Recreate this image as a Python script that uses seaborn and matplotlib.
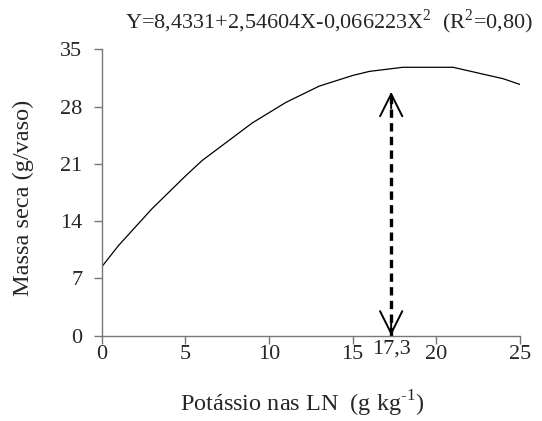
import matplotlib
matplotlib.use("Agg")
import matplotlib.pyplot as plt
import seaborn as sns

# === DATA ===
potassio = [0, 1, 3, 4, 5, 6, 9, 11, 13, 15, 16, 18, 21, 24, 25]
massa_seca = [8.4, 11.0, 15.5, 17.5, 19.5, 21.4, 26.0, 28.5, 30.5, 31.8, 32.3, 32.8, 32.8, 31.4, 30.7]

x_ticks = [0, 5, 10, 15, 20, 25]
y_ticks = [0, 7, 14, 21, 28, 35]
x_max_point = 17.3        # dose of max yield
arrow_top = 29.8          # where the dashed arrow stops

equation = "Y=8,4331+2,54604X-0,066223X$^2$  (R$^2$=0,80)"

# === STYLE ===
sns.set_style("ticks")
plt.rcParams["font.family"] = ["Liberation Serif", "DejaVu Serif"]
plt.rcParams["mathtext.fontset"] = "custom"
plt.rcParams["mathtext.rm"] = "Liberation Serif"

fig = plt.figure(figsize=(5.42, 4.21), dpi=100)
ax = fig.add_axes([0.1877, 0.2029, 0.9594 - 0.1877, 0.8829 - 0.2029])

sns.lineplot(x=potassio, y=massa_seca, color="black", linewidth=0.9, ax=ax)

# dashed double arrow at the max point
ax.plot([x_max_point, x_max_point], [0, arrow_top], color="black",
        linestyle=(0, (2.5, 1.6)), linewidth=2.4)
head = dict(arrowstyle="->,head_length=0.4,head_width=0.2", color="black",
            lw=1.4, mutation_scale=40, shrinkA=0, shrinkB=0)
ax.annotate("", xy=(x_max_point, arrow_top), xytext=(x_max_point, arrow_top - 2), arrowprops=head)
ax.annotate("", xy=(x_max_point, 0), xytext=(x_max_point, 2), arrowprops=head)

ax.set_xlim(0, 25)
ax.set_ylim(0, 35)
ax.set_yticks(y_ticks)
ax.set_yticklabels([str(v) for v in y_ticks])
ax.set_xticks(x_ticks)
ax.set_xticklabels([str(v) for v in x_ticks])
ax.set_xticks([x_max_point], minor=True)
ax.set_xticklabels(["17,3"], minor=True)
ax.tick_params(axis="both", which="major", length=6, width=1, color="#777777",
               labelsize=16, direction="out")
ax.tick_params(axis="y", which="major", pad=8)
ax.tick_params(axis="x", which="major", pad=1)
ax.tick_params(axis="x", which="minor", length=0, pad=2.5, labelsize=16)

sns.despine(ax=ax)
for side in ["left", "bottom"]:
    ax.spines[side].set_color("#777777")
    ax.spines[side].set_linewidth(1)

fig.text(0.0425, 0.531, "Massa seca (g/vaso)", rotation=90,
         ha="center", va="center", fontsize=17.5)
fig.text(0.557, 0.04, r"Potássio nas LN  (g kg$^{\text{-}1}$)",
         ha="center", va="center", fontsize=17.5)
fig.text(0.607, 0.948, equation, ha="center", va="center", fontsize=16)

fig.savefig("out.png", dpi=100)
